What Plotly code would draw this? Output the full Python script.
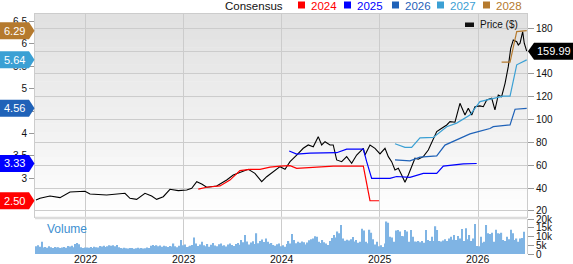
import plotly.graph_objects as go

# ---------------- data (decimal years) ----------------
price_t = [2021.490, 2021.531, 2021.633, 2021.735, 2021.837, 2021.939, 2021.990, 2022.041, 2022.211, 2022.398,
           2022.449, 2022.517, 2022.602, 2022.670, 2022.721, 2022.789, 2022.857, 2022.942, 2023.028, 2023.079,
           2023.130, 2023.181, 2023.232, 2023.334, 2023.436, 2023.503, 2023.571, 2023.656, 2023.724, 2023.793,
           2023.844, 2023.911, 2023.980, 2024.031, 2024.082, 2024.150, 2024.217, 2024.268, 2024.319, 2024.370,
           2024.405, 2024.439, 2024.490, 2024.523, 2024.558, 2024.609, 2024.660, 2024.711, 2024.762, 2024.830,
           2024.847, 2024.898, 2024.949, 2025.000, 2025.051, 2025.085, 2025.119, 2025.153, 2025.187, 2025.221,
           2025.255, 2025.289, 2025.323, 2025.357, 2025.391, 2025.442, 2025.493, 2025.544, 2025.579, 2025.630,
           2025.681, 2025.714, 2025.765, 2025.816, 2025.867, 2025.901, 2025.936, 2025.969, 2026.020, 2026.054,
           2026.089, 2026.140, 2026.173, 2026.207, 2026.241, 2026.276, 2026.309, 2026.334, 2026.360, 2026.395,
           2026.411, 2026.429, 2026.456, 2026.472, 2026.497]
price_v = [29.6, 31.1, 33.1, 31.7, 36.7, 36.7, 37.3, 34.9, 34.0, 35.5,
           31.1, 30.2, 35.5, 33.1, 30.2, 32.5, 39.0, 37.8, 38.4, 39.9,
           45.7, 43.7, 40.8, 41.9, 47.2, 51.5, 53.6, 56.5, 53.0, 45.7,
           50.0, 54.4, 58.8, 56.5, 63.2, 69.0, 74.9, 77.8, 76.3, 85.1,
           77.8, 80.7, 77.8, 77.8, 64.7, 63.2, 67.6, 61.8, 69.0, 74.9,
           69.0, 77.8, 74.9, 70.0, 74.9, 67.6, 63.2, 56.0, 57.4, 51.5,
           45.1, 51.5, 58.8, 66.2, 65.3, 67.6, 73.4, 82.2, 89.5, 92.4,
           95.3, 98.2, 97.7, 114.3, 104.0, 110.0, 104.0, 111.3, 112.0, 111.3,
           117.2, 118.7, 108.5, 121.6, 120.1, 131.8, 146.4, 162.5, 169.8, 168.3,
           165.4, 166.9, 177.0, 166.9, 159.99]

eps2024_t = [2023.146, 2023.232, 2023.367, 2023.469, 2023.571, 2023.673, 2023.776, 2023.878, 2023.980, 2024.082,
             2024.150, 2024.286, 2024.523, 2024.830, 2024.898, 2024.990]
eps2024_v = [2.76, 2.80, 2.83, 2.96, 3.17, 3.20, 3.20, 3.25, 3.27, 3.28,
             3.22, 3.24, 3.27, 3.27, 2.50, 2.50]

eps2025_t = [2024.074, 2024.150, 2024.286, 2024.558, 2024.660, 2024.830, 2024.864, 2024.915, 2025.102, 2025.170,
             2025.306, 2025.442, 2025.579, 2025.646, 2025.850, 2025.987]
eps2025_v = [3.61, 3.54, 3.56, 3.57, 3.65, 3.65, 3.37, 3.00, 3.00, 3.04,
             3.02, 3.11, 3.11, 3.27, 3.32, 3.33]

eps2026_t = [2025.153, 2025.306, 2025.408, 2025.579, 2025.663, 2025.782, 2025.918, 2026.003, 2026.122, 2026.156,
             2026.327, 2026.378, 2026.497]
eps2026_v = [3.41, 3.39, 3.47, 3.50, 3.74, 3.85, 3.99, 4.04, 4.11, 4.15,
             4.19, 4.54, 4.56]

eps2027_t = [2025.153, 2025.255, 2025.323, 2025.408, 2025.544, 2025.681, 2025.782, 2025.918, 2026.020, 2026.156,
             2026.258, 2026.327, 2026.395, 2026.497]
eps2027_v = [3.77, 3.69, 3.69, 3.90, 3.91, 4.15, 4.23, 4.41, 4.71, 4.78,
             4.83, 4.83, 5.53, 5.64]

eps2028_t = [2026.241, 2026.327, 2026.395, 2026.497]
eps2028_v = [5.59, 5.59, 6.27, 6.29]

# weekly volume (thousands), first week at 2021.49
vol_start = 2021.49
vol_2021 = [4.5, 5.0, 4.2, 7.0, 3.8, 4.0, 3.6, 4.4, 3.9, 3.5, 4.1, 3.7, 3.9, 3.4, 3.8, 4.0, 3.6, 4.6, 4.3, 4.8,
            3.9, 5.8, 6.3, 5.6, 3.9, 3.5, 3.7]
vol_2022 = [3.8, 3.6, 4.0, 3.5, 4.2, 3.9, 3.7, 4.6, 4.3, 4.8, 4.1, 4.5, 5.1, 4.7, 5.0, 4.4, 5.2, 3.9, 3.4, 3.2,
            3.6, 3.3, 3.1, 3.5, 3.4, 3.0, 3.3, 3.6, 3.2, 3.4, 3.1, 3.3, 3.7, 3.5, 4.8, 5.2, 4.6, 5.0, 4.4, 4.9,
            4.2, 4.7, 4.5, 4.0, 4.6, 4.3, 6.0, 4.4, 3.9, 4.8, 8.0, 5.0]
vol_2023 = [5.5, 4.0, 4.3, 4.8, 5.2, 9.5, 6.0, 4.6, 5.5, 7.0, 5.0, 4.5, 5.8, 4.2, 5.4, 6.3, 4.9, 4.4, 5.6, 6.1,
            4.7, 5.0, 4.3, 5.5, 6.0, 5.2, 4.6, 5.7, 6.4, 5.3, 8.0, 6.8, 11.0, 7.2, 5.5, 6.6, 7.4, 5.8, 12.0, 6.2,
            7.5, 8.3, 6.9, 9.0, 7.1, 5.9, 6.4, 5.2, 4.8, 5.6, 6.0, 4.5]
vol_2024 = [5.0, 4.2, 5.8, 7.5, 6.0, 11.5, 8.0, 6.2, 7.0, 6.5, 7.2, 6.8, 5.5, 6.6, 7.9, 8.5, 9.0, 10.2, 10.0, 7.0,
            6.3, 8.0, 6.8, 6.0, 5.2, 7.5, 9.2, 11.0, 9.5, 13.0, 12.0, 16.7, 9.0, 7.6, 8.2, 7.8, 8.5, 9.8, 7.2, 8.0,
            6.5, 7.0, 14.5, 13.5, 7.0, 6.2, 14.0, 12.2, 8.5, 5.5, 7.0, 4.5]
vol_2025 = [5.0, 4.0, 6.0, 18.7, 18.0, 10.0, 9.5, 7.0, 13.5, 13.8, 13.0, 10.4, 10.2, 13.8, 13.0, 7.0, 13.8, 10.0, 7.2, 7.0,
            7.5, 6.8, 7.5, 6.5, 13.8, 8.0, 7.5, 10.0, 7.5, 16.0, 13.8, 7.5, 7.2, 7.8, 8.5, 7.5, 9.0, 10.0, 8.2, 11.0,
            8.0, 10.4, 9.0, 14.4, 7.5, 14.8, 8.5, 11.0, 7.5, 9.0, 17.3, 4.6]
vol_2026 = [4.5, 10.0, 6.5, 7.0, 16.7, 12.0, 11.5, 12.2, 7.0, 14.0, 12.0, 11.6, 12.3, 8.0, 7.5, 10.0, 8.5, 14.0, 12.0, 8.0,
            9.0, 7.0, 9.0, 9.2, 12.8]
volume = vol_2021 + vol_2022 + vol_2023 + vol_2024 + vol_2025 + vol_2026
vol_t = [vol_start + i / 52.0 for i in range(len(volume))]

years = [2022, 2023, 2024, 2025, 2026]
year_labels = ["2022", "2023", "2024", "2025", "2026"]
price_ticks = [20, 40, 60, 80, 100, 120, 140, 160, 180]
eps_ticks = [2.5, 3, 3.5, 4, 4.5, 5, 5.5, 6, 6.5]
eps_tick_labels = ["2.5", "3", "3.5", "4", "4.5", "5", "5.5", "6", "6.5"]
vol_ticks = [0, 5, 10, 15, 20]
vol_tick_labels = ["0", "5k", "10k", "15k", "20k"]
series_names = ["2024", "2025", "2026", "2027", "2028"]
series_colors = ["#ff0000", "#0000ff", "#1f62b8", "#3ba0d4", "#b57a2e"]

# ---------------- layout geometry ----------------
W, H = 573, 264
ML, MR, MT, MB = 35, 46, 14, 10
PW, PH = W - ML - MR, H - MT - MB
FONT = "Liberation Sans, Arial, sans-serif"


def pxx(X):
    return (X - ML) / PW


def pxy(Y):
    return (H - MB - Y) / PH


main_bottom = pxy(216.7)
vol_top = pxy(219.3)
X_RANGE = [2021.48, 2026.5]
P_RANGE = [15.0, 192.5]
E_RANGE = [2.144, 6.662]

fig = go.Figure()

eps_t = [eps2024_t, eps2025_t, eps2026_t, eps2027_t, eps2028_t]
eps_v = [eps2024_v, eps2025_v, eps2026_v, eps2027_v, eps2028_v]
for name, col, t, v in zip(series_names, series_colors, eps_t, eps_v):
    fig.add_trace(go.Scatter(x=t, y=v, mode="lines", name=name, xaxis="x", yaxis="y2",
                             line=dict(color=col, width=1.2), showlegend=False))

fig.add_trace(go.Scatter(x=price_t, y=price_v, mode="lines", name="Price ($)", xaxis="x", yaxis="y",
                         line=dict(color="#000000", width=1.1), showlegend=False))

fig.add_trace(go.Bar(x=vol_t, y=volume, xaxis="x2", yaxis="y3", name="Volume",
                     marker=dict(color="#7fb4e4", line=dict(width=0)), showlegend=False))

shapes = []
# gradient background of the main panel: horizontal strips, darker at the top
n = 24
for i in range(n):
    c = int(round(0xff - (0xff - 0xe0) * (i + 0.5) / n))
    shapes.append(dict(type="rect", xref="x domain", yref="y domain", x0=0, x1=1,
                       y0=i / n, y1=(i + 1) / n + 0.002,
                       fillcolor="rgb(%d,%d,%d)" % (c, c, c), line=dict(width=0), layer="below"))
# separator band
shapes.append(dict(type="rect", xref="paper", yref="paper", x0=0, x1=1, y0=vol_top, y1=main_bottom,
                   fillcolor="#dcdcdc", line=dict(width=0), layer="above"))

annotations = []
# top legend
legend_y = pxy(5.5)
annotations.append(dict(x=pxx(285), y=legend_y, xref="paper", yref="paper", text="Consensus",
                        showarrow=False, xanchor="right", yanchor="middle",
                        font=dict(family=FONT, size=11.5, color="#111")))
sq_x = [298, 344, 392, 437, 483]
for name, col, sx in zip(series_names, series_colors, sq_x):
    shapes.append(dict(type="rect", xref="paper", yref="paper", x0=pxx(sx), x1=pxx(sx + 7),
                       y0=pxy(8.5), y1=pxy(1.5), fillcolor=col, line=dict(width=0), layer="above"))
    annotations.append(dict(x=pxx(sx + 11), y=legend_y, xref="paper", yref="paper", text=name,
                            showarrow=False, xanchor="left", yanchor="middle",
                            font=dict(family=FONT, size=11.5, color=col)))

# price legend inside plot
shapes.append(dict(type="rect", xref="paper", yref="paper", x0=pxx(465), x1=pxx(474),
                   y0=pxy(27), y1=pxy(22.5), fillcolor="#111", line=dict(width=0), layer="above"))
annotations.append(dict(x=pxx(478), y=pxy(25), xref="paper", yref="paper", text="Price ($)",
                        showarrow=False, xanchor="left", yanchor="middle",
                        font=dict(family=FONT, size=10, color="#111")))

# left EPS tags
tag_h = 8.5 / 44.87
for col, v in zip(series_colors, eps_v):
    last = v[-1]
    path = "M %f,%f L %f,%f L %f,%f L %f,%f L %f,%f Z" % (
        pxx(0), last - tag_h, pxx(29), last - tag_h, pxx(34.5), last,
        pxx(29), last + tag_h, pxx(0), last + tag_h)
    shapes.append(dict(type="path", xref="paper", yref="y2", path=path, fillcolor=col,
                       line=dict(width=0), layer="above"))
    annotations.append(dict(x=pxx(14), y=last, xref="paper", yref="y2", text="%.2f" % last,
                            showarrow=False, xanchor="center", yanchor="middle",
                            font=dict(family=FONT, size=11, color="white")))

# right price tag
lp = price_v[-1]
ph = 8.5 * 20 / 22.84
path = "M %f,%f L %f,%f L %f,%f L %f,%f L %f,%f Z" % (
    pxx(528), lp, pxx(534), lp + ph, pxx(573), lp + ph, pxx(573), lp - ph, pxx(534), lp - ph)
shapes.append(dict(type="path", xref="paper", yref="y", path=path, fillcolor="#000",
                   line=dict(width=0), layer="above"))
annotations.append(dict(x=pxx(553.5), y=lp, xref="paper", yref="y", text="%.2f" % lp,
                        showarrow=False, xanchor="center", yanchor="middle",
                        font=dict(family=FONT, size=11, color="white")))

# Volume label
annotations.append(dict(x=pxx(45), y=pxy(229), xref="paper", yref="paper", text="Volume",
                        showarrow=False, xanchor="left", yanchor="middle",
                        font=dict(family=FONT, size=12, color="#3d8fd1")))

# year labels under the volume panel
for yv, lab in zip(years, year_labels):
    annotations.append(dict(x=yv, y=pxy(259), xref="x2", yref="paper", text=lab,
                            showarrow=False, xanchor="center", yanchor="middle",
                            font=dict(family=FONT, size=10.5, color="#111")))

GRID = "#cccccc"
tickfont = dict(family=FONT, size=10, color="#111")
fig.update_layout(
    width=W, height=H,
    margin=dict(l=ML, r=MR, t=MT, b=MB, pad=0),
    paper_bgcolor="white", plot_bgcolor="rgba(0,0,0,0)",
    bargap=0.35,
    font=dict(family=FONT, size=10, color="#111"),
    xaxis=dict(domain=[0, 1], anchor="y", range=X_RANGE, tickvals=years, showticklabels=False,
               showgrid=True, gridcolor=GRID, gridwidth=1, zeroline=False, ticks="",
               showline=True, mirror=True, linecolor=GRID, linewidth=1),
    yaxis=dict(domain=[main_bottom, 1], anchor="x", side="right", range=P_RANGE, tickvals=price_ticks,
               ticks="outside", ticklen=6, tickcolor="#999", showgrid=True, gridcolor=GRID,
               zeroline=False, showline=True, linecolor=GRID, tickfont=tickfont, automargin=False),
    yaxis2=dict(overlaying="y", anchor="x", side="left", range=E_RANGE, tickvals=eps_ticks,
                ticktext=eps_tick_labels,
                ticks="outside", ticklen=5, tickcolor="#999", showgrid=False, zeroline=False,
                showline=True, linecolor=GRID, tickfont=tickfont, automargin=False),
    xaxis2=dict(domain=[0, 1], anchor="y3", matches="x", range=X_RANGE, tickvals=years,
                showticklabels=False, showgrid=True, gridcolor=GRID, zeroline=False, ticks="",
                showline=False, automargin=False),
    yaxis3=dict(domain=[0, vol_top], anchor="x2", side="right", range=[0, 20], tickvals=vol_ticks,
                ticktext=vol_tick_labels, ticks="outside", ticklen=6, tickcolor="#999",
                showgrid=False, zeroline=False, showline=True, linecolor=GRID, tickfont=tickfont,
                automargin=False),
    shapes=shapes,
    annotations=annotations,
)

fig.write_html("out.html", config={"displayModeBar": False})
